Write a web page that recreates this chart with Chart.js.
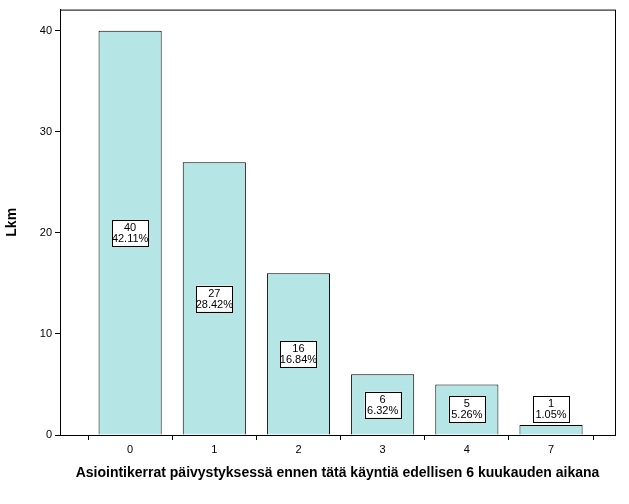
<!DOCTYPE html><html><head><script src="https://cdn.jsdelivr.net/npm/chart.js@4"></script>
<style>body{margin:0;background:#fff}#w{width:629px;height:504px}</style></head><body><div id="w"><canvas id="c"></canvas></div>
<script>
const categories=["0","1","2","3","4","7"];
const counts=[40,27,16,6,5,1];
const percents=["42.11%","28.42%","16.84%","6.32%","5.26%","1.05%"];
const yTicks=[0,10,20,30,40];
const font="'Liberation Sans', Arial, sans-serif";
const labels={id:'lbl',afterDatasetsDraw(ch){const c=ch.ctx;const m=ch.getDatasetMeta(0);const a=ch.chartArea;c.save();c.font="11px "+font;c.textAlign='center';c.textBaseline='middle';
m.data.forEach((b,i)=>{let yc=ch.scales.y.getPixelForValue(counts[i]/2);yc=Math.min(yc,a.bottom-26);const w=36,h=26;const x=b.x;c.fillStyle='#fff';c.fillRect(x-w/2,yc-h/2,w,h);c.strokeStyle='#000';c.lineWidth=1;c.strokeRect(Math.round(x-w/2)+.5,Math.round(yc-h/2)+.5,w,h);c.fillStyle='#000';c.fillText(counts[i],x,yc-5);c.fillText(percents[i],x,yc+6);});
c.strokeStyle='#000';c.strokeRect(a.left+.5,a.top+.5,a.right-a.left,a.bottom-a.top);c.restore();}};
new Chart(document.getElementById('c'),{type:'bar',data:{datasets:[{data:counts.map((v,i)=>({x:i,y:v})),backgroundColor:'#b5e5e5',borderColor:'#000',borderWidth:1,barPercentage:0.75,categoryPercentage:1}]},
options:{responsive:true,maintainAspectRatio:false,animation:false,layout:{padding:{top:8,right:14,left:0,bottom:18}},plugins:{legend:{display:false},tooltip:{enabled:false}},
scales:{x:{type:'linear',offset:false,min:-0.833,max:5.76,grid:{drawOnChartArea:false,color:'#000',tickLength:5},border:{color:'#000'},afterBuildTicks(s){s.ticks=categories.map((c,i)=>({value:i}));},ticks:{color:'#000',font:{family:font,size:11},autoSkip:false,callback:(v)=>categories[v]},title:{display:true,text:'Asiointikerrat päivystyksessä ennen tätä käyntiä edellisen 6 kuukauden aikana',color:'#000',font:{family:font,size:14,weight:'bold'},padding:{top:6}}},
y:{min:0,max:42.1,afterBuildTicks(s){s.ticks=yTicks.map(v=>({value:v}));},grid:{drawOnChartArea:false,color:'#000',tickLength:5},border:{color:'#000'},ticks:{color:'#000',font:{family:font,size:11}},afterFit(s){s.width=60;},title:{display:true,text:'Lkm',color:'#000',font:{family:font,size:14,weight:'bold'}}}}},plugins:[labels]});
</script></body></html>
